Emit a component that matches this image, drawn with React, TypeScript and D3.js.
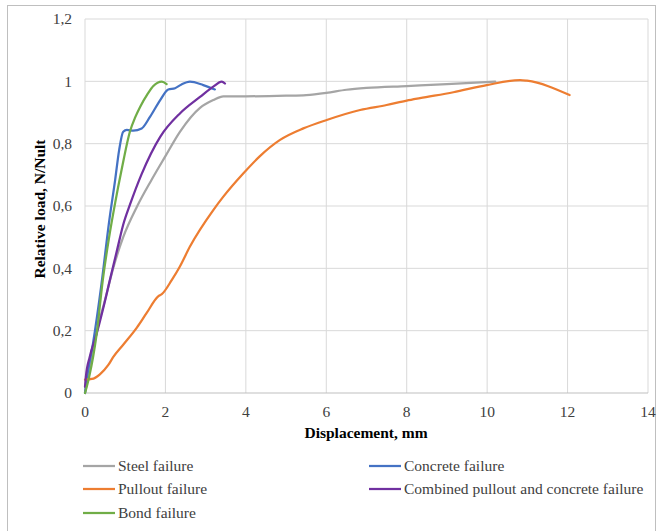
import { scaleLinear, line, curveMonotoneX } from 'd3';

// values
const xTicks = [0, 2, 4, 6, 8, 10, 12, 14];
const yTicks = [0, 0.2, 0.4, 0.6, 0.8, 1, 1.2];

const steelX = [0, 0.15, 0.3, 0.5, 0.7, 0.95, 1.3, 1.66, 2.0, 2.36, 2.86, 3.19, 3.44, 4, 5, 5.5, 6, 6.5, 7, 8, 9, 10.2];
const steelY = [0, 0.1, 0.2, 0.3, 0.4, 0.5, 0.6, 0.685, 0.76, 0.838, 0.915, 0.94, 0.952, 0.952, 0.954, 0.956, 0.963, 0.973, 0.979, 0.985, 0.991, 0.999];

const concreteX = [0, 0.05, 0.2, 0.41, 0.6, 0.75, 0.85, 0.95, 1.04, 1.2, 1.41, 1.62, 1.87, 2.07, 2.24, 2.4, 2.61, 2.94, 3.23];
const concreteY = [0, 0.05, 0.16, 0.35, 0.55, 0.684, 0.78, 0.838, 0.844, 0.842, 0.849, 0.887, 0.94, 0.974, 0.978, 0.99, 0.999, 0.988, 0.974];

const pulloutX = [0, 0.17, 0.37, 0.58, 0.7, 0.95, 1.29, 1.53, 1.82, 1.91, 2.16, 2.36, 2.61, 3.19, 3.44, 3.94, 4.35, 4.85, 5.43, 6.01, 6.84, 7.5, 8.0, 8.33, 9.16, 9.99, 10.82, 10.99, 12.05];
const pulloutY = [0.043, 0.045, 0.06, 0.09, 0.115, 0.155, 0.21, 0.256, 0.31, 0.317, 0.363, 0.406, 0.47, 0.587, 0.63, 0.705, 0.76, 0.812, 0.849, 0.876, 0.908, 0.924, 0.938, 0.946, 0.965, 0.988, 1.004, 1.002, 0.956];

const combinedX = [0, 0.02, 0.12, 0.29, 0.45, 0.62, 0.8, 0.95, 1.12, 1.4, 1.87, 2.36, 2.86, 3.19, 3.4, 3.48];
const combinedY = [0.02, 0.05, 0.117, 0.19, 0.27, 0.363, 0.46, 0.54, 0.605, 0.7, 0.822, 0.897, 0.95, 0.983, 0.999, 0.993];

const bondX = [0, 0.1, 0.29, 0.44, 0.6, 0.75, 0.91, 1.12, 1.25, 1.37, 1.55, 1.7, 1.91, 2.03];
const bondY = [0, 0.05, 0.19, 0.36, 0.5, 0.61, 0.716, 0.84, 0.885, 0.918, 0.958, 0.985, 0.999, 0.991];

const seriesNames = ['Steel failure', 'Concrete failure', 'Pullout failure', 'Combined pullout and concrete failure', 'Bond failure'];
const seriesColors = ['#A5A5A5', '#4472C4', '#ED7D31', '#7030A0', '#70AD47'];

const W = 661;
const H = 531;
const plot = { left: 85, right: 648, top: 19, bottom: 393 };
const font = "'Liberation Serif', 'Times New Roman', serif";
const fs = 15.5;

export default function App() {
  const x = scaleLinear().domain([0, 14]).range([plot.left, plot.right]);
  const y = scaleLinear().domain([0, 1.2]).range([plot.bottom, plot.top]);

  const series = [
    { xs: steelX, ys: steelY },
    { xs: concreteX, ys: concreteY },
    { xs: pulloutX, ys: pulloutY },
    { xs: combinedX, ys: combinedY },
    { xs: bondX, ys: bondY },
  ];

  // legend layout: order as in the picture
  const legend = [
    { i: 0, lx: 83, ly: 466 },
    { i: 1, lx: 369, ly: 466 },
    { i: 2, lx: 83, ly: 489 },
    { i: 3, lx: 369, ly: 489 },
    { i: 4, lx: 83, ly: 513 },
  ];

  return (
    <svg width={W} height={H} style={{ position: 'absolute', left: 0, top: 0, fontFamily: font }}>
      <rect x={0} y={0} width={W} height={H} fill="#fff" />
      <rect x={7.5} y={5.5} width={648} height={530} fill="none" stroke="#BFBFBF" strokeWidth={1} />

      {/* grid */}
      {xTicks.map((t) => (
        <line key={'gx' + t} x1={x(t)} x2={x(t)} y1={plot.top} y2={plot.bottom} stroke="#D9D9D9" strokeWidth={1} />
      ))}
      {yTicks.map((t) => (
        <line key={'gy' + t} x1={plot.left} x2={plot.right} y1={y(t)} y2={y(t)} stroke={t === 0 ? '#BFBFBF' : '#D9D9D9'} strokeWidth={1} />
      ))}

      {/* tick labels */}
      {yTicks.map((t) => (
        <text key={'ty' + t} x={72} y={y(t)} dy="0.35em" textAnchor="end" fontSize={fs} fill="#404040">
          {String(t).replace('.', ',')}
        </text>
      ))}
      {xTicks.map((t) => (
        <text key={'tx' + t} x={x(t)} y={417} textAnchor="middle" fontSize={fs} fill="#404040">
          {t}
        </text>
      ))}

      {/* axis titles */}
      <text x={366} y={438} textAnchor="middle" fontSize={fs} fontWeight="bold" fill="#000">
        Displacement, mm
      </text>
      <text transform="translate(45,209) rotate(-90)" textAnchor="middle" fontSize={fs} fontWeight="bold" fill="#000">
        Relative load, N/Nult
      </text>

      {/* series */}
      {series.map((s, i) => {
        const p = line<number>()
          .x((d) => x(d))
          .y((_, k) => y(s.ys[k]))
          .curve(curveMonotoneX);
        return (
          <path key={'s' + i} d={p(s.xs) || ''} fill="none" stroke={seriesColors[i]} strokeWidth={2.25} strokeLinejoin="round" strokeLinecap="round" />
        );
      })}

      {/* legend */}
      {legend.map((l) => (
        <g key={'l' + l.i}>
          <line x1={l.lx} x2={l.lx + 32} y1={l.ly} y2={l.ly} stroke={seriesColors[l.i]} strokeWidth={2.25} />
          <text x={l.lx + 35} y={l.ly} dy="0.35em" fontSize={fs} fill="#404040">
            {seriesNames[l.i]}
          </text>
        </g>
      ))}
    </svg>
  );
}
